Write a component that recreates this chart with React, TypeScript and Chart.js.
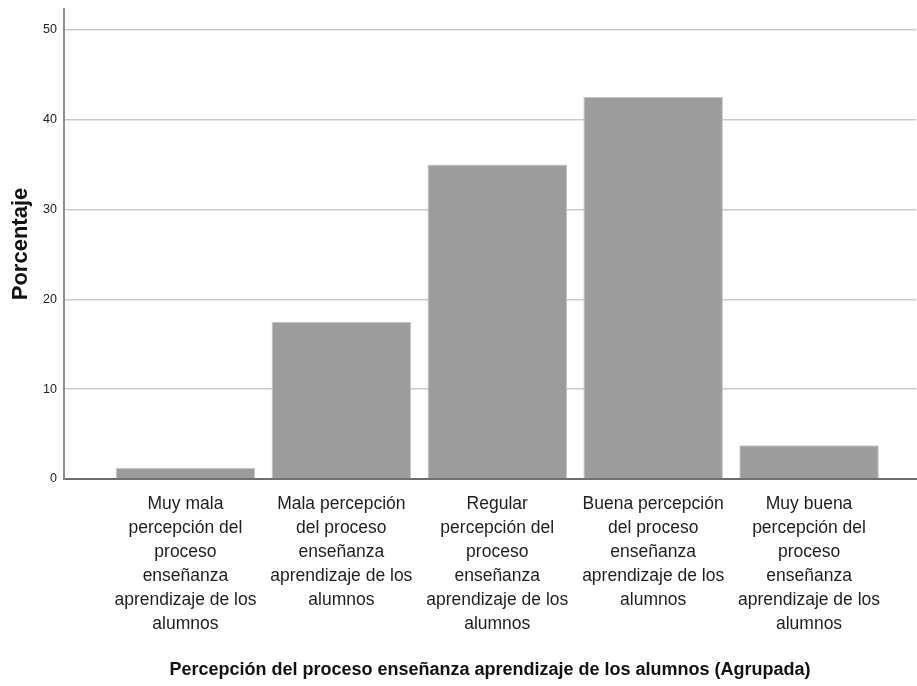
import React, { useEffect, useRef } from "react";
import { Chart, registerables } from "chart.js";

Chart.register(...registerables);

const categoryLabels: string[][] = [
  ["Muy mala", "percepción del", "proceso", "enseñanza", "aprendizaje de los", "alumnos"],
  ["Mala percepción", "del proceso", "enseñanza", "aprendizaje de los", "alumnos"],
  ["Regular", "percepción del", "proceso", "enseñanza", "aprendizaje de los", "alumnos"],
  ["Buena percepción", "del proceso", "enseñanza", "aprendizaje de los", "alumnos"],
  ["Muy buena", "percepción del", "proceso", "enseñanza", "aprendizaje de los", "alumnos"],
];
const percentages: number[] = [1.25, 17.5, 35.0, 42.5, 3.75];
const yTickValues: number[] = [0, 10, 20, 30, 40, 50];
const yTitle = "Porcentaje";
const xTitle = "Percepción del proceso enseñanza aprendizaje de los alumnos (Agrupada)";

const FONT = '"Liberation Sans", Arial, sans-serif';

export default function App() {
  const canvasRef = useRef<HTMLCanvasElement | null>(null);

  useEffect(() => {
    document.body.style.margin = "0";
    const canvas = canvasRef.current;
    if (!canvas) return;
    const chart = new Chart(canvas, {
      type: "bar",
      data: {
        datasets: [
          {
            data: percentages.map((v, i) => ({ x: i, y: v })),
            backgroundColor: "#9c9c9c",
            borderColor: "#c4c4c4",
            borderWidth: 1,
            barPercentage: 0.895,
            categoryPercentage: 1,
          },
        ],
      },
      options: {
        animation: false,
        responsive: false,
        devicePixelRatio: 1,
        layout: { padding: { left: 0, top: 9, right: 1, bottom: 0 } },
        plugins: { legend: { display: false }, tooltip: { enabled: false } },
        scales: {
          x: {
            type: "linear",
            offset: false,
            min: -0.779,
            max: 4.686,
            grid: { display: false, drawTicks: false },
            border: { display: true, color: "#6e6e6e", width: 2 },
            afterBuildTicks: (scale: any) => {
              scale.ticks = categoryLabels.map((_, i) => ({ value: i }));
            },
            afterFit: (scale: any) => {
              scale.height = 207;
              scale.paddingLeft = 0;
              scale.paddingRight = 0;
            },
            ticks: {
              autoSkip: false,
              maxRotation: 0,
              minRotation: 0,
              padding: 13,
              color: "#1e1e1e",
              font: { family: FONT, size: 17.5, lineHeight: "24px" },
              callback: (value: any) => categoryLabels[Number(value)] ?? "",
            },
            title: {
              display: true,
              text: xTitle,
              color: "#111111",
              font: { family: FONT, size: 18, weight: "bold", lineHeight: 1.2 },
              padding: { top: 0, bottom: 5.5 },
            },
          },
          y: {
            type: "linear",
            min: 0,
            max: 52.3,
            grid: {
              drawTicks: false,
              lineWidth: 1.5,
              color: (ctx: any) => (ctx.tick && ctx.tick.value === 0 ? "rgba(0,0,0,0)" : "#cbcbcb"),
            },
            border: { display: true, color: "#8e8e8e", width: 2 },
            afterBuildTicks: (scale: any) => {
              scale.ticks = yTickValues.map((v) => ({ value: v }));
            },
            afterFit: (scale: any) => {
              scale.width = 64;
              scale.paddingTop = 0;
              scale.paddingBottom = 0;
            },
            ticks: {
              padding: 7,
              color: "#222222",
              font: { family: FONT, size: 12.5 },
            },
            title: {
              display: true,
              text: yTitle,
              color: "#111111",
              font: { family: FONT, size: 22, weight: "bold", lineHeight: 1.2 },
              padding: { top: 8, bottom: 0 },
            },
          },
        },
      },
    } as any);
    return () => chart.destroy();
  }, []);

  return (
    <div style={{ position: "fixed", left: 0, top: 0, width: 917, height: 686, background: "#ffffff" }}>
      <canvas ref={canvasRef} width={917} height={686} style={{ width: 917, height: 686, display: "block" }} />
    </div>
  );
}
